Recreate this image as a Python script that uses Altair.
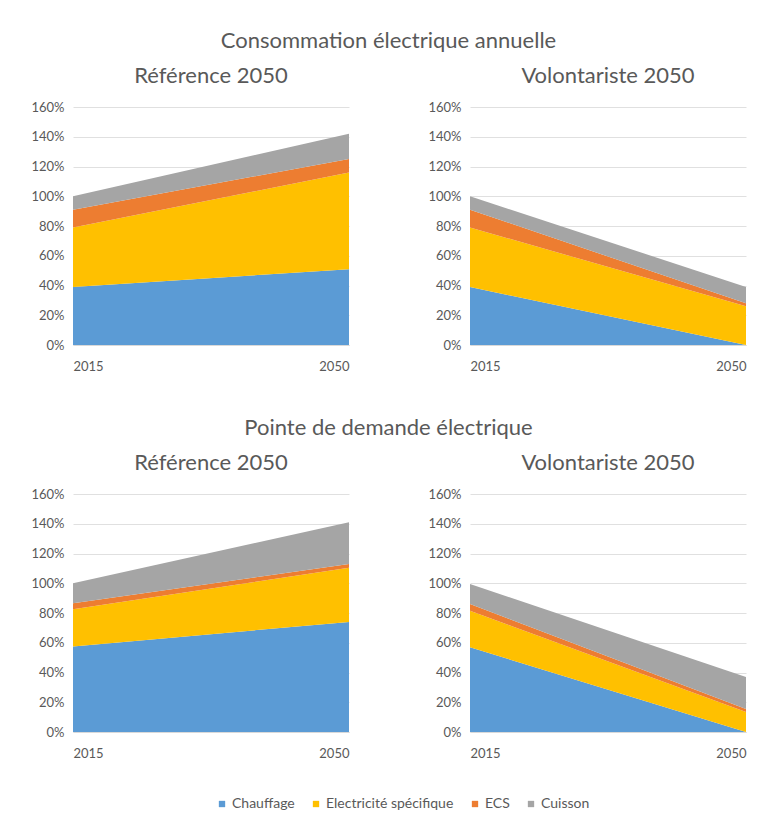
import altair as alt
import pandas as pd

years = [2015, 2050]
categories = ["Chauffage", "Electricité spécifique", "ECS", "Cuisson"]
colors = ["#5B9BD5", "#FFC000", "#ED7D31", "#A5A5A5"]

# values in % (share of 2015 total), per category: [2015, 2050]
conso_ref = {"Chauffage": [39, 51], "Electricité spécifique": [40, 65], "ECS": [12, 9], "Cuisson": [9, 17]}
conso_vol = {"Chauffage": [39, 0], "Electricité spécifique": [40, 26], "ECS": [12, 2], "Cuisson": [9, 11]}
pointe_ref = {"Chauffage": [57.5, 74], "Electricité spécifique": [25, 36.5], "ECS": [4, 2.5], "Cuisson": [13.5, 28]}
pointe_vol = {"Chauffage": [57, 0], "Electricité spécifique": [24.5, 13.5], "ECS": [4.5, 2], "Cuisson": [13.5, 21.5]}

row_titles = ["Consommation électrique annuelle", "Pointe de demande électrique"]
panel_titles = ["Référence 2050", "Volontariste 2050"]

FONT = "Lato"
TXT = "#595959"


def to_df(d):
    rows = []
    for i, c in enumerate(categories):
        for y, v in zip(years, d[c]):
            rows.append({"year": y, "cat": c, "ord": i, "value": v / 100})
    return pd.DataFrame(rows)


def panel(d, title):
    return alt.Chart(to_df(d)).mark_area(opacity=1).encode(
        x=alt.X("year:Q", scale=alt.Scale(domain=[2015, 2050], nice=False, zero=False),
                axis=alt.Axis(values=years, format="d", title=None, grid=False, ticks=False,
                              domain=True, domainColor="#d9d9d9", labelPadding=15)),
        y=alt.Y("value:Q", stack="zero", scale=alt.Scale(domain=[0, 1.6], nice=False),
                axis=alt.Axis(values=[0, 0.2, 0.4, 0.6, 0.8, 1.0, 1.2, 1.4, 1.6], format=".0%",
                              title=None, domain=False, ticks=False, labelPadding=9,
                              gridColor="#e0e0e0")),
        color=alt.Color("cat:N", scale=alt.Scale(domain=categories, range=colors),
                        legend=alt.Legend(title=None, orient="none", direction="horizontal",
                                          legendX=142, legendY=690,
                                          symbolType="square", symbolSize=40, labelFontSize=14,
                                          labelOffset=3, columnPadding=14)),
        order=alt.Order("ord:Q", sort="ascending"),
    ).properties(width=276, height=238,
                 title=alt.TitleParams(title, fontSize=22, font=FONT, color=TXT,
                                       fontWeight="normal", offset=13))


def row(d1, d2, t):
    return alt.hconcat(panel(d1, panel_titles[0]), panel(d2, panel_titles[1]),
                       spacing=78).properties(
        title=alt.TitleParams(t, fontSize=22, font=FONT, color=TXT,
                              fontWeight="normal", anchor="middle", offset=12))


row1 = row(conso_ref, conso_vol, row_titles[0])
row2 = row(pointe_ref, pointe_vol, row_titles[1])

chart = alt.vconcat(row1, row2, spacing=44).properties(
    padding={"left": 22, "top": 22, "right": 10, "bottom": 10}
).configure_view(stroke=None).configure_axis(
    labelFont=FONT, labelFontSize=13, labelColor=TXT
).configure_legend(labelFont=FONT, labelColor=TXT)

chart.save("out.html", embed_options={"renderer": "svg", "actions": False})
